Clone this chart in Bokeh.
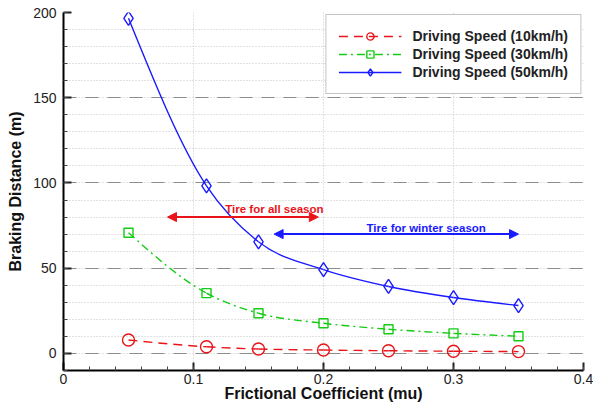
from bokeh.plotting import figure
from bokeh.models import (FixedTicker, NumeralTickFormatter, Legend, LegendItem,
                          Arrow, NormalHead, ColumnDataSource)
from bokeh.core.properties import value
from bokeh.embed import file_html
from bokeh.resources import INLINE

# ---- data ----
mu = [0.05, 0.11, 0.15, 0.20, 0.25, 0.30, 0.35]
dist_10 = [7.9, 3.9, 2.6, 2.0, 1.6, 1.3, 1.1]
dist_30 = [70.8, 35.4, 23.6, 17.7, 14.2, 11.8, 10.1]
dist_50 = [196.6, 98.3, 65.5, 49.2, 39.3, 32.8, 28.1]
series_names = ["Driving Speed (10km/h)", "Driving Speed (30km/h)", "Driving Speed (50km/h)"]

x_ticks = [0, 0.1, 0.2, 0.3, 0.4]
x_minor = [round(i * 0.02, 2) for i in range(21)]
y_ticks = [0, 50, 100, 150, 200]
y_minor = list(range(-10, 201, 10))

arrow_labels = ["Tire for all season", "Tire for winter season"]
arrow_x0 = [0.08, 0.162]
arrow_x1 = [0.196, 0.35]
arrow_y = [80, 70]
label_x = [0.2, 0.279]
label_y = [85, 73.5]

RED = "#e8141a"
GREEN = "#14cc14"
BLUE = "#1a1aff"
FONT = "Liberation Sans"


def bezier_segments(xs, ys):
    """Smooth cubic (Hermite) curve through the points, as Bezier segments."""
    n = len(xs)
    h = [xs[i + 1] - xs[i] for i in range(n - 1)]
    dd = [(ys[i + 1] - ys[i]) / h[i] for i in range(n - 1)]
    m = [0.0] * n
    for i in range(1, n - 1):
        m[i] = (dd[i - 1] * h[i] + dd[i] * h[i - 1]) / (h[i - 1] + h[i])
    m[0] = (3 * dd[0] - m[1]) / 2
    m[-1] = (3 * dd[-1] - m[-2]) / 2
    d = dict(x0=[], y0=[], x1=[], y1=[], cx0=[], cy0=[], cx1=[], cy1=[])
    for i in range(n - 1):
        d["x0"].append(xs[i]); d["y0"].append(ys[i])
        d["x1"].append(xs[i + 1]); d["y1"].append(ys[i + 1])
        d["cx0"].append(xs[i] + h[i] / 3)
        d["cy0"].append(ys[i] + m[i] * h[i] / 3)
        d["cx1"].append(xs[i + 1] - h[i] / 3)
        d["cy1"].append(ys[i + 1] - m[i + 1] * h[i] / 3)
    return ColumnDataSource(d)


p = figure(width=593, height=404, x_range=(0, 0.4), y_range=(-10, 200),
           output_backend="svg", toolbar_location=None,
           min_border_left=63, min_border_right=10, min_border_top=12, min_border_bottom=20)
p.outline_line_color = None
p.background_fill_color = "white"

# grids
p.ygrid.ticker = FixedTicker(ticks=y_ticks, minor_ticks=y_minor)
p.ygrid.grid_line_color = "#8c8c8c"
p.ygrid.grid_line_dash = "13 9"
p.ygrid.grid_line_width = 1
p.ygrid.minor_grid_line_color = "#c4c4c4"
p.ygrid.minor_grid_line_dash = "1 2"
p.xgrid.ticker = FixedTicker(ticks=x_ticks)
p.xgrid.grid_line_color = "#c4c4c4"
p.xgrid.grid_line_dash = "1 2"

# axes
p.xaxis.ticker = FixedTicker(ticks=x_ticks, minor_ticks=x_minor)
p.yaxis.ticker = FixedTicker(ticks=y_ticks, minor_ticks=y_minor)
p.xaxis.formatter = NumeralTickFormatter(format="0.[0]")
for ax in (p.xaxis[0], p.yaxis[0]):
    ax.axis_line_width = 2
    ax.axis_line_color = "black"
    ax.major_tick_in = 8
    ax.major_tick_out = 0
    ax.minor_tick_in = 4
    ax.minor_tick_out = 0
    ax.major_tick_line_width = 2
    ax.minor_tick_line_width = 1
    ax.major_tick_line_color = "#222222"
    ax.minor_tick_line_color = "#444444"
    ax.major_label_text_font = FONT
    ax.major_label_text_font_size = "14px"
    ax.major_label_text_color = "#222222"
    ax.axis_label_text_font = FONT
    ax.axis_label_text_font_size = "16px"
    ax.axis_label_text_font_style = "bold"
    ax.axis_label_text_color = "#111111"
p.xaxis.axis_label = "Frictional Coefficient (mu)"
p.yaxis.axis_label = "Braking Distance (m)"
p.xaxis.major_label_standoff = 3
p.xaxis.axis_label_standoff = -2
p.yaxis.major_label_standoff = 7
p.yaxis.axis_label_standoff = 6

styles = [
    (dist_10, RED, "9 6", "circle", 12),
    (dist_30, GREEN, "8 4 2 4", "square", 9),
    (dist_50, BLUE, "solid", "diamond", 14),
]
items = []
for (ys, color, dash, marker, size), name in zip(styles, series_names):
    src = bezier_segments(mu, ys)
    p.bezier(x0="x0", y0="y0", x1="x1", y1="y1", cx0="cx0", cy0="cy0", cx1="cx1", cy1="cy1",
             source=src, line_color=color, line_width=1.4, line_dash=dash)
    legend_line = p.line(x=[float("nan")], y=[float("nan")], line_color=color,
                         line_width=1.4, line_dash=dash)
    sc = p.scatter(mu, ys, marker=marker, size=size, line_color=color, line_width=1.4,
                   fill_color=None)
    items.append(LegendItem(label=name, renderers=[legend_line, sc]))

# arrows and their labels
arrow_colors = [RED, BLUE]
for x0, x1, y, c in zip(arrow_x0, arrow_x1, arrow_y, arrow_colors):
    p.add_layout(Arrow(x_start=x0, y_start=y, x_end=x1, y_end=y, line_color=c, line_width=2,
                       start=NormalHead(size=9, fill_color=c, line_color=c),
                       end=NormalHead(size=9, fill_color=c, line_color=c)))
p.text(x=label_x[:1], y=label_y[:1], text=arrow_labels[:1], text_color=RED,
       text_font=value(FONT), text_font_size="11.5px", text_font_style="bold",
       text_align="right", text_baseline="middle")
p.text(x=label_x[1:], y=label_y[1:], text=arrow_labels[1:], text_color=BLUE,
       text_font=value(FONT), text_font_size="11.5px", text_font_style="bold",
       text_align="center", text_baseline="middle")

legend = Legend(items=items, location="top_right", margin=2,
                glyph_width=63, glyph_height=18, label_height=18, spacing=0,
                padding=12, label_standoff=11,
                label_text_font=FONT, label_text_font_size="14px",
                label_text_font_style="bold", label_text_color="#222222",
                border_line_color="#8a8a8a", border_line_width=1.2,
                background_fill_color="white", background_fill_alpha=1)
p.add_layout(legend)

open("out.html", "w").write(file_html(p, INLINE))
